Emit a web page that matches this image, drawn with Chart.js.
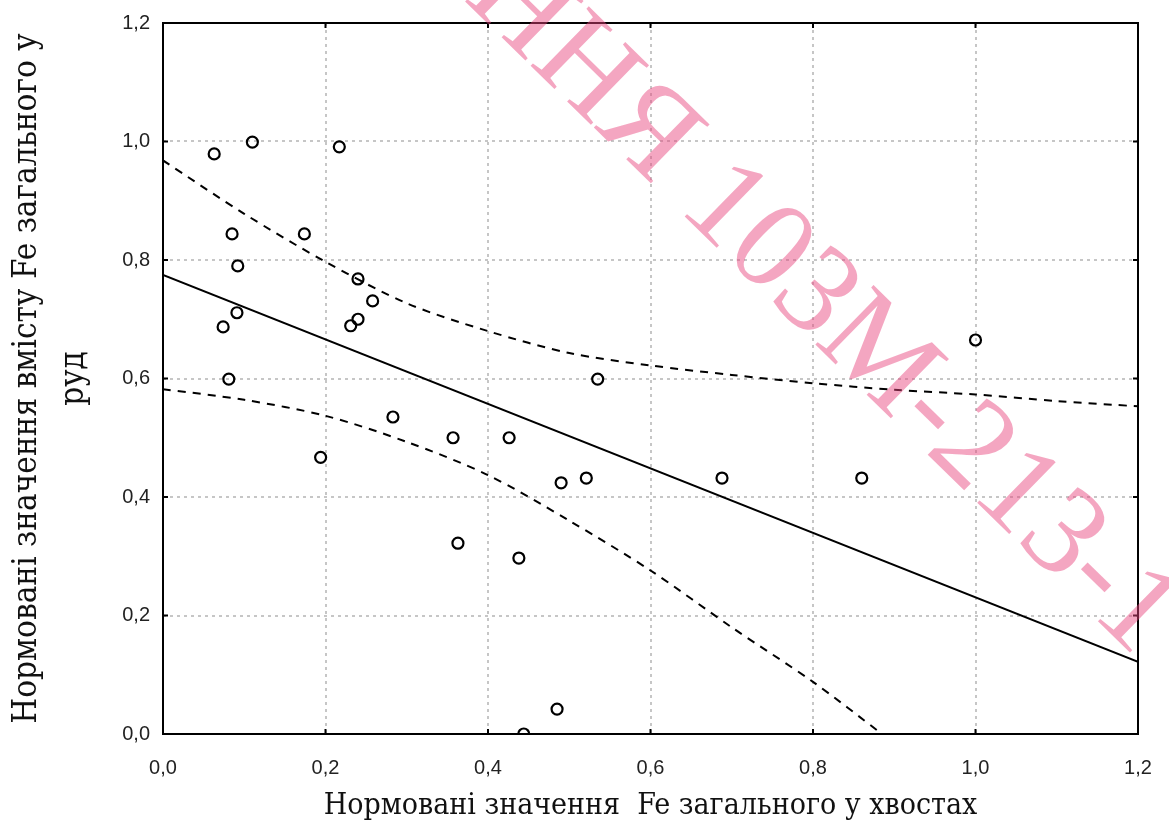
<!DOCTYPE html>
<html lang="uk">
<head>
    <meta charset="UTF-8">
    <title>Нормовані значення Fe</title>
    <style>
        body {
            margin: 0;
            background: #ffffff;
        }
        #wrap {
            width: 1169px;
            height: 834px;
            position: relative;
        }
    </style>
</head>
<body>
    <div id="wrap">
        <canvas id="chart"></canvas>
    </div>

    <script src="https://cdn.jsdelivr.net/npm/chart.js"></script>
    <script>
        // точки: Fe загальне у хвостах (x) та у руді (y)
        const xTails = [0.063, 0.110, 0.217, 0.085, 0.174, 0.092, 0.240, 0.258, 0.091, 0.074,
                        0.231, 0.240, 0.081, 0.535, 1.000, 0.283, 0.194, 0.357, 0.426, 0.521,
                        0.490, 0.688, 0.860, 0.363, 0.438, 0.485, 0.444];
        const yOre = [0.979, 0.999, 0.991, 0.844, 0.844, 0.790, 0.768, 0.731, 0.711, 0.687,
                      0.689, 0.700, 0.599, 0.599, 0.665, 0.535, 0.467, 0.500, 0.500, 0.432,
                      0.424, 0.432, 0.432, 0.322, 0.297, 0.042, 0.000];

        // лінія регресії (кінцеві точки)
        const fitX = [0.0, 1.2];
        const fitY = [0.775, 0.122];

        // довірчі межі
        const upperX = [0.0, 0.1, 0.2, 0.3, 0.4, 0.5, 0.6, 0.7, 0.8, 0.9, 1.0, 1.1, 1.2];
        const upperY = [0.968, 0.878, 0.797, 0.727, 0.680, 0.643, 0.622, 0.606, 0.592, 0.581, 0.573, 0.562, 0.553];
        const lowerX = [0.0, 0.1, 0.2, 0.3, 0.4, 0.5, 0.6, 0.7, 0.8, 0.885];
        const lowerY = [0.582, 0.564, 0.537, 0.493, 0.437, 0.360, 0.276, 0.180, 0.088, 0.0];

        const axisTicks = [0, 0.2, 0.4, 0.6, 0.8, 1.0, 1.2];

        const xTitle = 'Нормовані значення  Fe загального у хвостах';
        const yTitle = ['Нормовані значення вмісту Fe загального у', 'руд'];
        const stamp = 'ННЯ 103М-213-1';

        const pairs = (xs, ys) => xs.map((x, i) => ({ x: x, y: ys[i] }));
        const fmt = v => Number(v).toFixed(1).replace('.', ',');
        const titleFont = '"DejaVu Serif Condensed", "Liberation Serif", serif';

        // рамка та внутрішні риски
        const framePlugin = {
            id: 'frame',
            beforeDatasetsDraw(chart) {
                const { ctx, chartArea: a, scales } = chart;
                ctx.save();
                ctx.strokeStyle = '#000';
                ctx.lineWidth = 2;
                ctx.strokeRect(a.left, a.top, a.right - a.left, a.bottom - a.top);
                ctx.beginPath();
                axisTicks.forEach(v => {
                    const px = scales.x.getPixelForValue(v);
                    ctx.moveTo(px, a.top); ctx.lineTo(px, a.top + 5);
                    ctx.moveTo(px, a.bottom); ctx.lineTo(px, a.bottom - 5);
                    const py = scales.y.getPixelForValue(v);
                    ctx.moveTo(a.left, py); ctx.lineTo(a.left + 5, py);
                    ctx.moveTo(a.right, py); ctx.lineTo(a.right - 5, py);
                });
                ctx.stroke();
                ctx.restore();
            },
            afterDraw(chart) {
                // рожевий штамп
                const ctx = chart.ctx;
                ctx.save();
                ctx.translate(1142, 607);
                ctx.rotate(44.4 * Math.PI / 180);
                ctx.font = '127px "Liberation Serif", serif';
                ctx.fillStyle = 'rgba(232, 70, 125, 0.48)';
                ctx.textAlign = 'right';
                ctx.textBaseline = 'alphabetic';
                ctx.fillText(stamp, 31, 41);
                ctx.restore();
            }
        };

        const ctx = document.getElementById('chart').getContext('2d');
        new Chart(ctx, {
            type: 'scatter',
            data: {
                datasets: [
                    {
                        label: 'точки',
                        data: pairs(xTails, yOre),
                        showLine: false,
                        pointStyle: 'circle',
                        pointRadius: 5.5,
                        pointBorderWidth: 2.2,
                        borderColor: '#000',
                        backgroundColor: 'rgba(255,255,255,0)'
                    },
                    {
                        label: 'регресія',
                        data: pairs(fitX, fitY),
                        showLine: true,
                        pointRadius: 0,
                        borderColor: '#000',
                        borderWidth: 2
                    },
                    {
                        label: 'верхня межа',
                        data: pairs(upperX, upperY),
                        showLine: true,
                        pointRadius: 0,
                        borderColor: '#000',
                        borderWidth: 2,
                        borderDash: [8, 7],
                        tension: 0.3
                    },
                    {
                        label: 'нижня межа',
                        data: pairs(lowerX, lowerY),
                        showLine: true,
                        pointRadius: 0,
                        borderColor: '#000',
                        borderWidth: 2,
                        borderDash: [8, 7],
                        tension: 0.3
                    }
                ]
            },
            options: {
                responsive: true,
                maintainAspectRatio: false,
                animation: false,
                layout: { padding: { top: 23, right: 31, left: 0, bottom: 0 } },
                plugins: {
                    legend: { display: false },
                    tooltip: { enabled: false }
                },
                scales: {
                    x: {
                        type: 'linear',
                        min: 0,
                        max: 1.2,
                        afterBuildTicks: s => { s.ticks = axisTicks.map(v => ({ value: v })); },
                        afterFit: s => { s.height = 100; s.paddingLeft = 0; s.paddingRight = 0; },
                        border: { display: false, dash: [3, 4] },
                        grid: {
                            color: '#c6c6c6',
                            lineWidth: 2,
                            drawTicks: false
                        },
                        ticks: {
                            padding: 22,
                            color: '#222',
                            font: { family: '"Liberation Sans", Arial, sans-serif', size: 20 },
                            callback: v => fmt(v)
                        },
                        title: {
                            display: true,
                            text: xTitle,
                            color: '#111',
                            font: { family: titleFont, size: 30 },
                            padding: { top: 0, bottom: 10 }
                        }
                    },
                    y: {
                        type: 'linear',
                        min: 0,
                        max: 1.2,
                        afterBuildTicks: s => { s.ticks = axisTicks.map(v => ({ value: v })); },
                        afterFit: s => { s.width = 163; s.paddingTop = 0; s.paddingBottom = 0; },
                        border: { display: false, dash: [3, 4] },
                        grid: {
                            color: '#c6c6c6',
                            lineWidth: 2,
                            drawTicks: false
                        },
                        ticks: {
                            padding: 13,
                            color: '#222',
                            font: { family: '"Liberation Sans", Arial, sans-serif', size: 20 },
                            callback: v => fmt(v)
                        },
                        title: {
                            display: true,
                            text: yTitle,
                            color: '#111',
                            font: { family: titleFont, size: 33, lineHeight: 1.42 },
                            padding: { top: 4, bottom: 0 }
                        }
                    }
                }
            },
            plugins: [framePlugin]
        });
    </script>
</body>
</html>
